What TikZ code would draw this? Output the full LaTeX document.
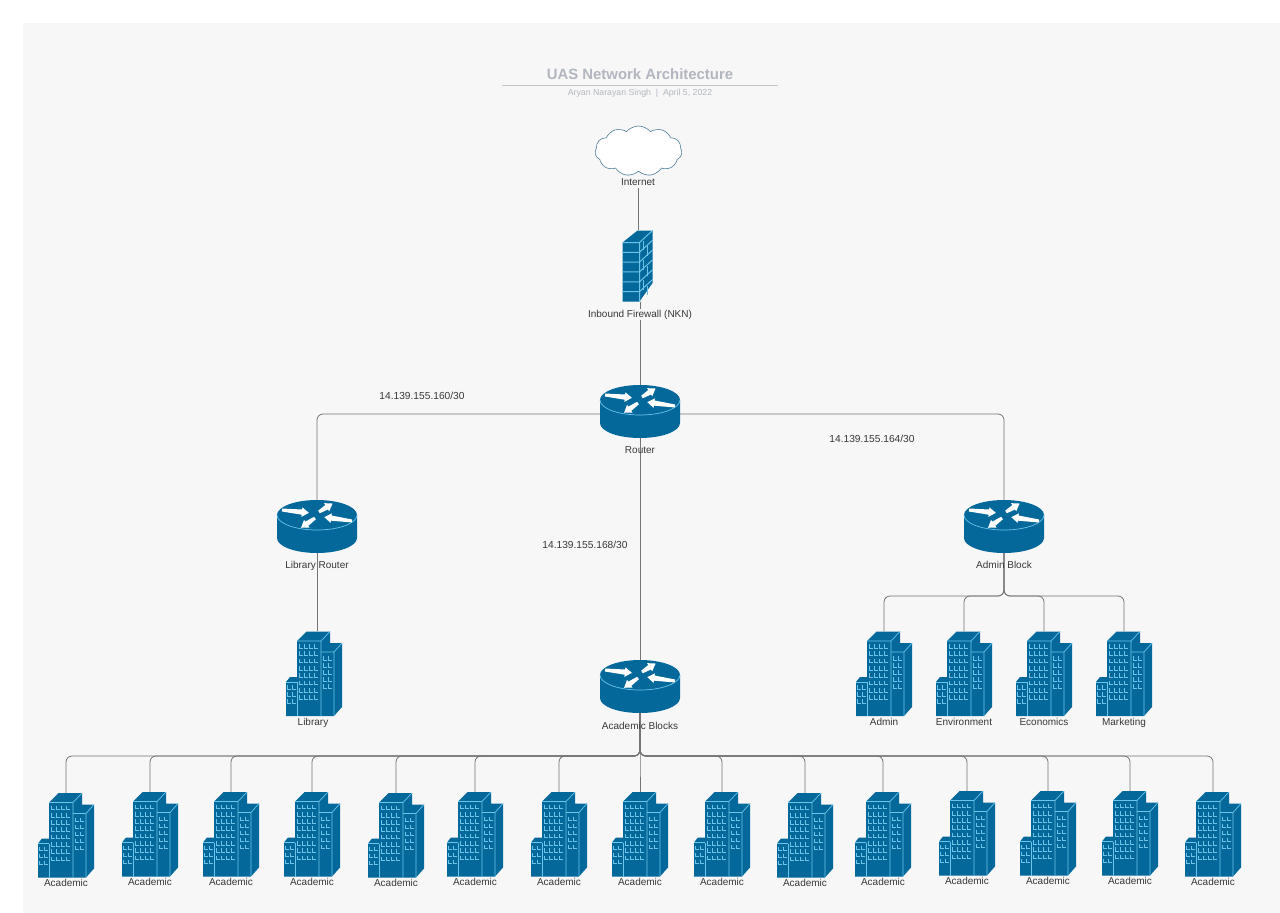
\documentclass[tikz,border=0pt]{standalone}
\usepackage{fontspec}
\setmainfont{Liberation Sans}
\usetikzlibrary{shapes.symbols}
\definecolor{pagebg}{HTML}{F7F7F8}
\definecolor{iconblue}{HTML}{04689B}
\definecolor{rimblue}{HTML}{6CC4EA}
\definecolor{connline}{HTML}{747474}
\definecolor{titlegray}{HTML}{B2B6BF}
\tikzset{
	% empty boxes that the connectors are tied to
	bldgbox/.style={inner sep=0pt, minimum width=56pt, minimum height=85pt},
	routerbox/.style={inner sep=0pt, minimum width=80pt, minimum height=48pt},
	lbl/.style={inner sep=0pt, yshift=-1.2pt, text height=7.5pt, text depth=2pt, text=black!78, font=\fontsize{10}{12}\selectfont},
	iplbl/.style={inner sep=0pt, yshift=-1.2pt, text height=7.5pt, text depth=2pt, text=black!78, font=\fontsize{10.2}{12}\selectfont},
	conn/.style={draw=connline, line width=0.8pt, rounded corners=6pt},
	rim/.style={draw=rimblue, line width=0.7pt},
	building/.pic={
		\fill [iconblue] (-17,-33) -- (-7.5,-42.5) -- (16,-42.5) -- (16,-31) -- (28,-31) -- (28,33)
			-- (20,42) -- (-28,42) -- (-28,8) -- (-24,3) -- (-17,3) -- cycle;
		\draw [rim] (-17,-33) -- (7,-33) -- (16,-42.5) (7,-33) -- (7,42);
		\draw [rim] (7,-22) -- (20,-22) -- (28,-31) (20,-22) -- (20,42);
		\draw [rim] (-17,8) -- (-17,42) (-28,8) -- (-17,8);
		\foreach \wx in {-14.5,-9.5,-4.5,0.5} {
			\foreach \wy in {-30,-22.7,-15.4,-8.1,-0.8,6.5,13.8,21.1} {
				\draw [rim, line width=0.5pt] (\wx,\wy) -- ++(0,4) -- ++(3.5,0);
			}
		}
		\foreach \wx in {9.5,14.5} {
			\foreach \wy in {-18,-11,-4,3,10} {
				\draw [rim, line width=0.5pt] (\wx,\wy) -- ++(0,4) -- ++(3.5,0);
			}
		}
		\foreach \wx in {-27,-22} {
			\foreach \wy in {11,18,25} {
				\draw [rim, line width=0.5pt] (\wx,\wy) -- ++(0,4) -- ++(3.5,0);
			}
		}
	},
	router/.pic={
		\fill [iconblue] (-40,-14) -- (-40,9) arc [start angle=180, end angle=0, x radius=40, y radius=15]
			-- (40,-14) arc [start angle=0, end angle=-180, x radius=40, y radius=15] -- cycle;
		\draw [rim] (-40,-14) arc [start angle=180, end angle=0, x radius=40, y radius=15];
		% one wedge arrow: tail, direction, length
		\foreach \ax/\ay/\aang/\alen in {-35/-19/-6/27, 2/-17/32/16, 35/-8/172/28, -2/-11/215/17} {
			\fill [white, shift={(\ax,\ay)}, rotate=\aang] (0,-1.5) -- (\alen-7,-2.6) -- (\alen-7,-4.8) -- (\alen,0)
				-- (\alen-7,4.8) -- (\alen-7,2.6) -- (0,1.5) -- cycle;
		}
	},
	firewall/.pic={
		\fill [iconblue] (-15,-23.5) -- (0,-35.5) -- (15,-35.5) -- (15,17) -- (2,35.5) -- (-15,35.5) -- cycle;
		\draw [rim, line width=1pt] (-15,-23.5) -- (2,-23.5) -- (15,-35.5) (2,-23.5) -- (2,35.5);
		\foreach \ry in {-13.7,-3.9,5.9,15.8,25.6} {
			\draw [rim, line width=1pt] (-15,\ry) -- (2,\ry) -- ++(13,-12);
		}
		\foreach \ry/\sx in {-23.5/6, -13.7/10, -3.9/6, 5.9/10, 15.8/6, 25.6/10} {
			\draw [rim, line width=1pt] (\sx,\ry+2-\sx+2) -- ++(0,9.8);
		}
	}
}

\begin{document}
\begin{tikzpicture}[x=1pt, y=-1pt]
	\useasboundingbox (0,0) rectangle (1280,913);
	\fill [pagebg] (23,23) rectangle (1280,913);

	%% Title
	\node [inner sep=0pt, text=titlegray, font=\fontsize{14.9}{16}\selectfont\bfseries] (title) at (640,74) {UAS Network Architecture};
	\draw [draw=titlegray!80, line width=1pt] (502,85) -- (778,85);
	\node [inner sep=0pt, text=titlegray, font=\fontsize{8.75}{10}\selectfont] (subtitle) at (640,93.5) {Aryan Narayan Singh~~|~~April 5, 2022};

	%% Top of the tree
	\node [cloud, cloud puffs=11, cloud puff arc=100, aspect=1.8, draw=black!30!iconblue!70, fill=white, line width=0.6pt,
		inner sep=0pt, minimum width=87pt, minimum height=50pt] (internet) at (638.5,151) {};
	\node [lbl] (internetlbl) at (638,182) {Internet};
	\node [inner sep=0pt, minimum width=31pt, minimum height=71pt] (fw) at (637.5,266) {};

	%% Routers
	\node [routerbox] (mainr) at (640,414) {};
	\node [routerbox] (libr) at (317,529) {};
	\node [routerbox] (admr) at (1004,529) {};
	\node [routerbox] (acr) at (640,689) {};

	\draw [conn] (internetlbl.south) -- (internetlbl.south |- fw.north);
	\draw [conn] (mainr.north |- fw.south) -- (mainr.north);
	\draw [conn] (mainr.west) -| (libr.north);
	\draw [conn] (mainr.east) -| (admr.north);
	\draw [conn] (mainr.south) -- (acr.north);

	%% Library
	\node [bldgbox] (lib) at (314,674) {};
	\draw [conn] (libr.south) -- (libr.south |- lib.north);
	\pic at (lib) {building};
	\node [lbl] (liblbl) at (313,721.5) {Library};

	%% Admin block
	\coordinate (admbus) at (1004,596);
	\foreach \n/\cx/\txt in {1/884/Admin, 2/964/Environment, 3/1044/Economics, 4/1124/Marketing} {
		\node [bldgbox] (adm\n) at (\cx,674) {};
		\draw [conn] (admr.south) -- (admbus) -| (adm\n.north);
		\pic at (adm\n) {building};
		\node [lbl] (admlbl\n) at (\cx,721.5) {\txt};
	}

	%% Academic blocks
	\coordinate (acbus) at (640,756);
	\foreach \n/\cx/\ly in {1/66/883, 2/150/882, 3/231/882, 4/312/882, 5/396/883, 6/475/882, 7/559/882, 8/640/882,
		9/722/882, 10/805/883, 11/883/882, 12/967/881, 13/1048/881, 14/1130/881, 15/1213/882} {
		\node [bldgbox] (ac\n) at (\cx,\ly-47.5) {};
		\draw [conn] (acr.south) -- (acbus) -| (ac\n.north);
		\pic at (ac\n) {building};
		\node [lbl] (aclbl\n) at (\cx,\ly) {Academic};
	}

	%% Icons above the connectors
	\pic at (fw) {firewall};
	\pic at (mainr) {router};
	\pic at (libr) {router};
	\pic at (admr) {router};
	\pic at (acr) {router};

	%% Labels
	\node [lbl, fill=pagebg, inner ysep=1pt] (fwlbl) at (640,313.5) {Inbound Firewall (NKN)};
	\node [lbl] (mainrlbl) at (640,450) {Router};
	\node [lbl] (librlbl) at (317,565) {Library Router};
	\node [lbl] (admrlbl) at (1004,565) {Admin Block};
	\node [lbl] (acrlbl) at (640,725.5) {Academic Blocks};
	\node [iplbl] (iplib) at (422,395.5) {14.139.155.160/30};
	\node [iplbl] (ipadm) at (872,438.5) {14.139.155.164/30};
	\node [iplbl] (ipac) at (585,544.5) {14.139.155.168/30};
\end{tikzpicture}
\end{document}
